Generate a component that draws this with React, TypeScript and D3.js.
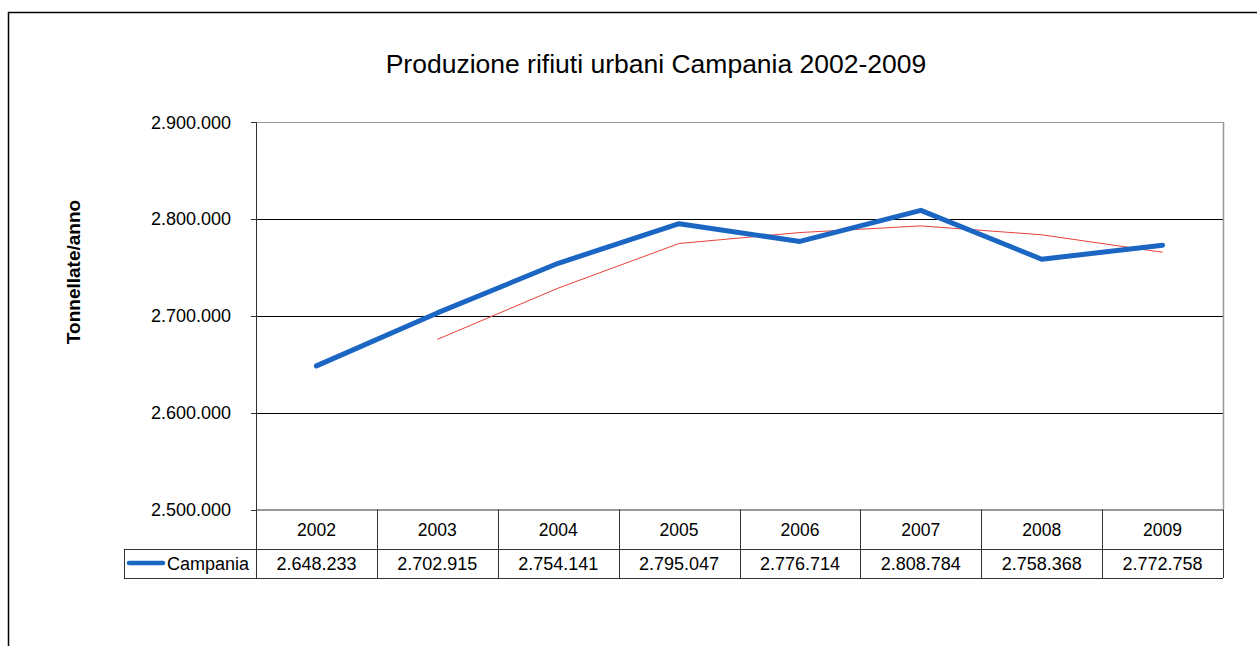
import React from "react";
import * as d3 from "d3";

const years = ["2002", "2003", "2004", "2005", "2006", "2007", "2008", "2009"];
const campania = [2648233, 2702915, 2754141, 2795047, 2776714, 2808784, 2758368, 2772758];
// trend line (2-period moving average), starting at 2003
const trendYears = ["2003", "2004", "2005", "2006", "2007", "2008", "2009"];
const trend = [2675574, 2728528, 2774594, 2785881, 2792749, 2783576, 2765563];
const yTicks = [2500000, 2600000, 2700000, 2800000, 2900000];

const fmt = (v: number) => d3.format(",")(v).replace(/,/g, ".");

export default function App() {
  const W = 1257, H = 646;
  const left = 256, right = 1223, top = 122, bottom = 509.5;
  const x = d3.scaleBand<string>().domain(years).range([left, right]);
  const y = d3.scaleLinear().domain([2500000, 2900000]).range([bottom, top]);
  const cx = (yr: string) => (x(yr) as number) + x.bandwidth() / 2;
  const line = d3.line<number>().x((_, i) => cx(years[i])).y((d) => y(d));
  const tline = d3.line<number>().x((_, i) => cx(trendYears[i])).y((d) => y(d));
  const font = "Liberation Sans, Arial, sans-serif";
  const row1 = bottom, row2 = 549, row3 = 578;
  const tableLeft = 124;
  const blue = "#1a66c2";
  return (
    <svg width={W} height={H} style={{ position: "absolute", left: 0, top: 0 }} fontFamily={font}>
      <rect x={0} y={0} width={W} height={H} fill="#fff" />
      <rect x={8.5} y={12.5} width={1300} height={700} fill="none" stroke="#000" strokeWidth={1.5} />
      <text x={656} y={73} textAnchor="middle" fontSize={26.5} fill="#000">
        Produzione rifiuti urbani Campania 2002-2009
      </text>
      <text transform={`translate(80,272) rotate(-90)`} textAnchor="middle" fontSize={19} fontWeight="bold" fill="#000">
        Tonnellate/anno
      </text>
      {/* gridlines */}
      {yTicks.slice(1, 4).map((t) => (
        <line key={t} x1={left} x2={right} y1={Math.round(y(t)) + 0.5} y2={Math.round(y(t)) + 0.5} stroke="#000" strokeWidth={1} />
      ))}
      {/* plot border top & right */}
      <line x1={left} x2={right} y1={top + 0.5} y2={top + 0.5} stroke="#999" strokeWidth={1} />
      <line x1={right + 0.5} x2={right + 0.5} y1={top} y2={row1} stroke="#999" strokeWidth={1.5} />
      {/* y axis */}
      <line x1={left + 0.5} x2={left + 0.5} y1={top} y2={row3} stroke="#333" strokeWidth={1} />
      {yTicks.map((t) => (
        <g key={t}>
          <line x1={left - 5} x2={left} y1={Math.round(y(t)) + 0.5} y2={Math.round(y(t)) + 0.5} stroke="#333" />
          <text x={231} y={y(t) + 6.5} textAnchor="end" fontSize={18} fill="#000">
            {fmt(t)}
          </text>
        </g>
      ))}
      {/* data table */}
      <line x1={left} x2={right} y1={row1 + 0.5} y2={row1 + 0.5} stroke="#333" />
      <line x1={tableLeft} x2={right} y1={row2 + 0.5} y2={row2 + 0.5} stroke="#333" />
      <line x1={tableLeft} x2={right} y1={row3 + 0.5} y2={row3 + 0.5} stroke="#333" />
      <line x1={tableLeft + 0.5} x2={tableLeft + 0.5} y1={row2} y2={row3} stroke="#333" />
      {years.map((yr, i) => (
        <g key={yr}>
          <line x1={Math.round((x(yr) as number) + x.bandwidth()) + 0.5} x2={Math.round((x(yr) as number) + x.bandwidth()) + 0.5} y1={row1} y2={row3} stroke="#333" />
          <text x={cx(yr)} y={536} textAnchor="middle" fontSize={17.5} fill="#000">{yr}</text>
          <text x={cx(yr)} y={570} textAnchor="middle" fontSize={18} fill="#000">{fmt(campania[i])}</text>
        </g>
      ))}
      <line x1={129} x2={163} y1={563} y2={563} stroke={blue} strokeWidth={4.5} strokeLinecap="round" />
      <text x={167} y={570} fontSize={18} fill="#000">Campania</text>
      {/* lines */}
      <path d={tline(trend) || ""} fill="none" stroke="#e8403a" strokeWidth={1} />
      <path d={line(campania) || ""} fill="none" stroke={blue} strokeWidth={5} strokeLinecap="round" strokeLinejoin="round" />
    </svg>
  );
}
